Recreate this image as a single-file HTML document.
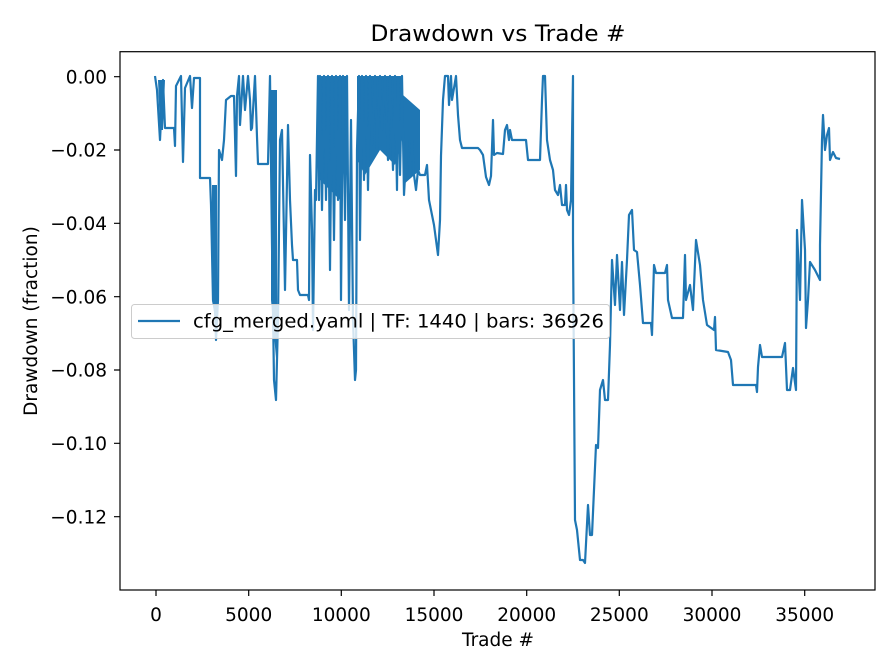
<!DOCTYPE html>
<html><head><meta charset="utf-8"><style>
body{margin:0;background:#fff}
svg{display:block;font-family:"DejaVu Sans","Liberation Sans",sans-serif}
</style></head><body>
<svg width="896" height="672" viewBox="0 0 896 672" xmlns="http://www.w3.org/2000/svg">
<rect width="896" height="672" fill="#fff"/>
<text x="498" y="41" font-size="22" text-anchor="middle" textLength="255" lengthAdjust="spacingAndGlyphs" fill="#000">Drawdown vs Trade #</text>
<g font-size="18.5" fill="#000">
<g text-anchor="middle">
<text x="156" y="621">0</text><text x="248.7" y="621">5000</text><text x="341.3" y="621">10000</text><text x="434" y="621">15000</text><text x="526.7" y="621">20000</text><text x="619.3" y="621">25000</text><text x="712" y="621">30000</text><text x="804.7" y="621">35000</text>
</g>
<g text-anchor="end">
<text x="107" y="83.3">0.00</text><text x="107" y="156.6">−0.02</text><text x="107" y="230">−0.04</text><text x="107" y="303.3">−0.06</text><text x="107" y="376.6">−0.08</text><text x="107" y="450">−0.10</text><text x="107" y="523.3">−0.12</text>
</g>
<text x="498" y="646" text-anchor="middle">Trade #</text>
<text transform="translate(37,321) rotate(-90)" text-anchor="middle">Drawdown (fraction)</text>
</g>
<g stroke="#000" stroke-width="1.2">
<path d="M156,590v6M248.7,590v6M341.3,590v6M434,590v6M526.7,590v6M619.3,590v6M712,590v6M804.7,590v6"/>
<path d="M120,76.7h-6M120,150h-6M120,223.3h-6M120,296.7h-6M120,370h-6M120,443.3h-6M120,516.7h-6"/>
</g>
<g>
<g fill="#1f77b4">
<polygon points="318,76 346,76 346,150 340,200 330,190 320,180 318,120"/>
<polygon points="357,76 402,76 402,140 395,165 380,150 365,175 357,160"/>
<polygon points="212,185 217,185 217,330 212,300"/>
<polygon points="271,90 277,90 277,370 271,300"/>
<polygon points="158,80 165,80 163,130 160,130"/>
<polygon points="403,95 420,110 420,170 403,185"/>
</g>
<polyline fill="none" stroke="#1f77b4" stroke-width="2.2" stroke-linejoin="round" points="155,76 157,90 160,140 163,80 165,128 174,128 175,146 176,86 181,76 183,162 185,88 190,76 192,108 194,78 200,78 200,178 210,178 211,205 213,300 215,310 216,340 218,300 219,150 222,160 224,140 226,100 231,96 234,96 236,176 237,96 239,76 240,125 243,76 245,110 248,76 250,100 251,130 252,128 255,76 257,137 258,164 268,164 270,76 272,245 274,380 276,400 278,320 280,140 282,130 285,290 288,125 290,200 292,245 293,260 297,260 298,290 300,295 308,295 309,300 310,155 312,230 313,330 315,190 316,200 318,76 319,200 320,76 322,210 324,76 326,200 328,76 330,270 332,76 334,240 336,76 338,200 340,76 341,300 343,76 345,220 347,76 349,310 351,120 353,320 355,380 356,370 357,150 359,76 360,240 362,76 364,180 366,76 368,190 370,76 372,145 375,76 377,150 380,76 382,130 385,76 388,160 390,76 393,170 395,76 397,190 398,80 400,175 402,76 404,195 407,140 410,175 412,140 414,175 416,190 418,170 420,175 425,175 427,165 429,200 432,215 434,225 436,240 438,255 440,220 441,156 443,100 445,76 448,76 449,105 451,76 452,100 456,76 458,115 460,140 462,148 478,148 480,150 483,155 486,177 489,185 491,176 493,120 494,155 497,153 503,154 505,130 507,125 509,140 510,130 512,140 526,140 528,160 540,160 542,100 543,76 545,76 547,140 550,160 553,170 555,190 558,195 560,185 562,205 565,205 566,185 567,210 569,215 571,200 573,76 573,240 575,520 577,530 580,560 583,560 585,563 588,505 590,535 592,535 596,445 598,448 600,390 603,380 605,400 608,400 610,345 612,260 615,305 617,255 620,310 622,262 624,315 627,260 629,215 632,210 634,250 637,252 640,285 643,323 651,323 652,335 654,265 656,273 665,273 667,265 668,300 672,318 683,318 685,255 686,300 690,285 693,310 696,240 700,265 703,300 707,325 714,330 715,317 716,350 728,352 731,360 733,385 736,385 756,385 757,392 758,367 760,345 762,357 782,357 785,343 787,390 790,390 793,368 796,390 797,230 800,300 802,200 805,250 806,328 808,300 810,262 815,270 820,280 820,245 822,140 823,115 825,150 827,135 829,128 830,160 833,152 836,158 840,159"/>
</g>
<rect x="120" y="51.7" width="755" height="538.3" fill="none" stroke="#000" stroke-width="1.2"/>
<rect x="131.5" y="304.5" width="478" height="34" rx="3" fill="#fff" fill-opacity="0.8" stroke="#ccc"/>
<line x1="138" y1="321" x2="180" y2="321" stroke="#1f77b4" stroke-width="2.2"/>
<text x="193" y="327.5" font-size="18.5" textLength="411" lengthAdjust="spacingAndGlyphs">cfg_merged.yaml | TF: 1440 | bars: 36926</text>
</svg>
</body></html>
